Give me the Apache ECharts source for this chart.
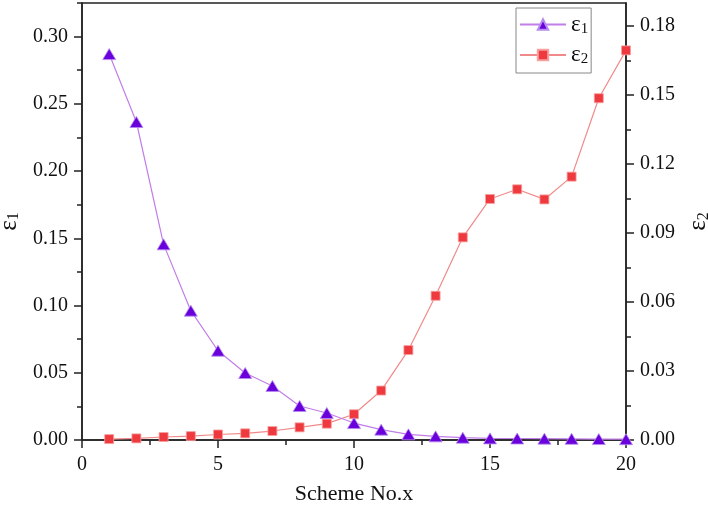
<!DOCTYPE html>
<html>
<head>
<meta charset="utf-8">
<script src="https://cdn.jsdelivr.net/npm/echarts@6/dist/echarts.min.js"></script>
<style>
html,body{margin:0;padding:0;background:#fff;}
#chart{width:708px;height:511px;}
</style>
</head>
<body>
<div id="chart"></div>
<script>
// ---- data ----
var schemes = [1,2,3,4,5,6,7,8,9,10,11,12,13,14,15,16,17,18,19,20];
var eps1 = [0.287,0.2365,0.1455,0.0962,0.0664,0.0498,0.0402,0.0253,0.0201,0.0126,0.0077,0.0042,0.0027,0.0017,0.0012,0.0011,0.0010,0.0009,0.0007,0.0006];
var eps2 = [0.0004,0.0007,0.0013,0.0017,0.0024,0.0029,0.0039,0.0055,0.0071,0.0112,0.0215,0.0391,0.0627,0.0881,0.1048,0.109,0.1046,0.1145,0.1486,0.1694];
var leftTicks = [0,0.05,0.10,0.15,0.20,0.25,0.30];
var leftMinor = [0.025,0.075,0.125,0.175,0.225,0.275,0.325];
var rightTicks = [0,0.03,0.06,0.09,0.12,0.15,0.18];
var rightMinor = [0.015,0.045,0.075,0.105,0.135,0.165];
var xName = 'Scheme No.x';

var FONT = 'Liberation Serif';
var AX = '#222';

function pairs(ys){ return schemes.map(function(x,i){ return [x, ys[i]]; }); }

var chart = echarts.init(document.getElementById('chart'));
var subRich = {
  e: {fontFamily: FONT, fontSize: 25, color: '#111'},
  s: {fontFamily: FONT, fontSize: 16, color: '#111', verticalAlign: 'bottom', padding: [10,0,0,0]}
};
var legRich = {
  e: {fontFamily: FONT, fontSize: 23, color: '#111'},
  s: {fontFamily: FONT, fontSize: 15, color: '#111', verticalAlign: 'bottom', padding: [9,0,0,0]}
};
var baseY = {
  type: 'value', min: 0,
  splitLine: {show: false},
  axisLine: {show: true, onZero: false, lineStyle: {color: AX, width: 1.5}},
  axisTick: {show: true, inside: false, length: 8, lineStyle: {color: AX, width: 1.5}},
  axisLabel: {fontFamily: FONT, fontSize: 20, color: '#111', margin: 14}
};
function clone(o){ return JSON.parse(JSON.stringify(o)); }

var y0 = echarts.util.merge(clone(baseY), {
  position: 'left', max: 0.325, interval: 0.05,
  name: '{e|ε}{s|1}', nameLocation: 'middle', nameRotate: 90, nameGap: 56,
  nameTextStyle: {rich: subRich},
  axisTick: {customValues: leftTicks},
  axisLabel: {customValues: leftTicks}
}, true);
y0.axisLabel.formatter = function(v){ return v.toFixed(2); };
var y1 = {
  type: 'value', min: 0, max: 0.325, position: 'left',
  splitLine: {show: false}, axisLine: {show: false},
  axisLabel: {show: false},
  axisTick: {show: true, length: 5, customValues: leftMinor, lineStyle: {color: AX, width: 1.5}}
};
var y2 = echarts.util.merge(clone(baseY), {
  position: 'right', max: 0.19, interval: 0.03,
  name: '{e|ε}{s|2}', nameLocation: 'middle', nameRotate: 90, nameGap: 52,
  nameTextStyle: {rich: subRich},
  axisTick: {customValues: rightTicks},
  axisLabel: {customValues: rightTicks}
}, true);
y2.axisLabel.formatter = function(v){ return v.toFixed(2); };
var y3 = {
  type: 'value', min: 0, max: 0.19, position: 'right',
  splitLine: {show: false}, axisLine: {show: false},
  axisLabel: {show: false},
  axisTick: {show: true, length: 5, customValues: rightMinor, lineStyle: {color: AX, width: 1.5}}
};

var option = {
  backgroundColor: '#fff',
  animation: false,
  grid: {left: 82, right: 82, top: 3, bottom: 71, show: true, borderColor: AX, borderWidth: 1.5,
         containLabel: false, outerBoundsMode: 'none'},
  legend: {
    orient: 'vertical', left: 516, top: 8,
    padding: [5, 3, 6, 3],
    itemWidth: 46, itemHeight: 13, itemGap: 7,
    borderColor: '#888', borderWidth: 1, backgroundColor: '#fff',
    data: ['e1', 'e2'],
    formatter: function(n){ return n === 'e1' ? '{e|ε}{s|1}' : '{e|ε}{s|2}'; },
    textStyle: {rich: legRich, padding: [0,0,0,0]}
  },
  xAxis: [{
    type: 'value', min: 0, max: 20, interval: 5, position: 'bottom',
    name: xName, nameLocation: 'middle', nameGap: 43,
    nameTextStyle: {fontFamily: FONT, fontSize: 22, color: '#111'},
    splitLine: {show: false},
    axisLine: {show: true, onZero: false, lineStyle: {color: AX, width: 1.5}},
    axisTick: {show: true, length: 8, lineStyle: {color: AX, width: 1.5}},
    minorTick: {show: true, splitNumber: 2, length: 5, lineStyle: {color: AX, width: 1.5}},
    axisLabel: {fontFamily: FONT, fontSize: 20, color: '#111', margin: 15}
  }],
  yAxis: [y0, y1, y2, y3],
  series: [{
    name: 'e1', type: 'line', yAxisIndex: 0, data: pairs(eps1),
    symbol: 'triangle', symbolSize: [13, 11],
    lineStyle: {color: '#c27ee8', width: 1.2},
    itemStyle: {color: '#6a00dc', borderColor: '#b48cf0', borderWidth: 0.8},
    z: 3
  }, {
    name: 'e2', type: 'line', yAxisIndex: 2, data: pairs(eps2),
    symbol: 'rect', symbolSize: 9,
    lineStyle: {color: '#f08a8a', width: 1.2},
    itemStyle: {color: '#ee3a3e', borderColor: '#f7a0a0', borderWidth: 0.8},
    z: 2
  }]
};
chart.setOption(option);
</script>
</body>
</html>
